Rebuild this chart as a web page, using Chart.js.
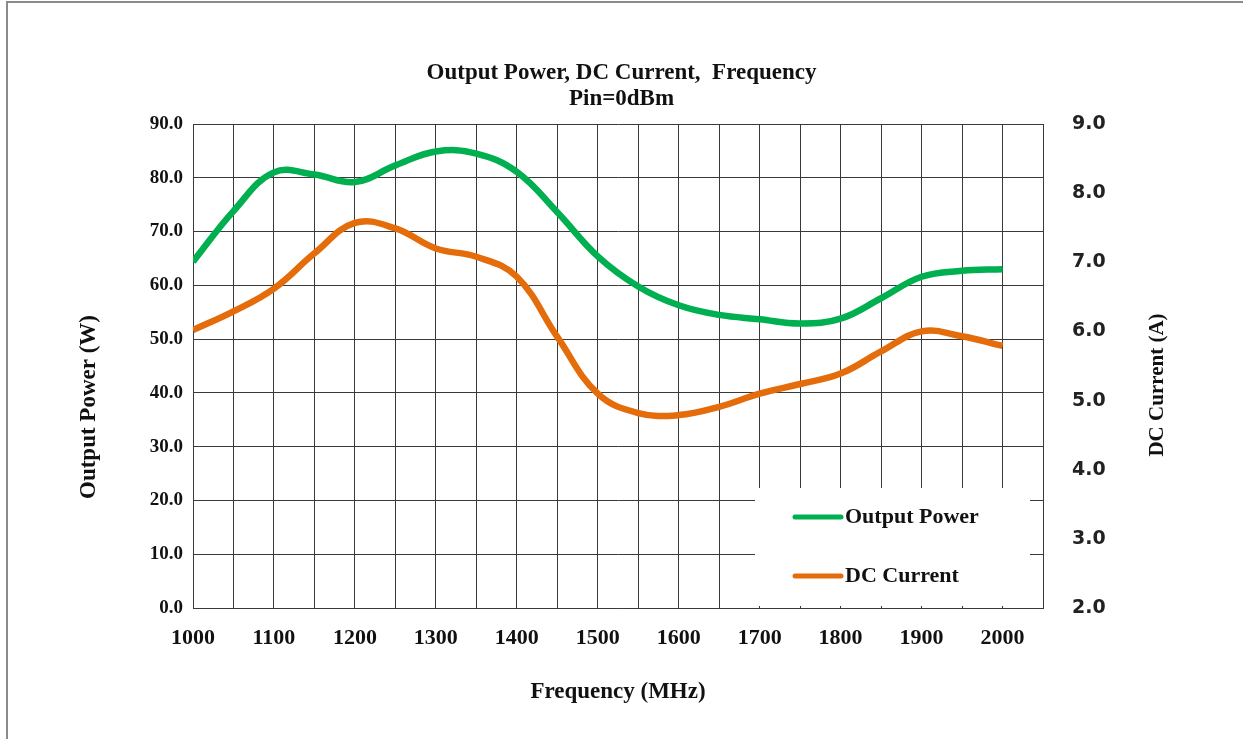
<!DOCTYPE html>
<html>
<head>
<meta charset="utf-8">
<script src="https://cdn.jsdelivr.net/npm/chart.js@4"></script>
<style>
  body { margin: 0; background: #fff; }
  #frame { position: absolute; left: 6px; top: 1px; width: 1300px; height: 800px; border-left: 2px solid #8a8a8a; border-top: 2px solid #8a8a8a; }
  canvas { position: absolute; left: 0; top: 0; }
</style>
</head>
<body>
<div id="frame"></div>
<canvas id="chart" width="1243" height="739"></canvas>
<script>
// frecuencias (MHz)
const freq = [1000, 1050, 1100, 1150, 1200, 1250, 1300, 1350, 1400, 1450, 1500,
              1550, 1600, 1650, 1700, 1750, 1800, 1850, 1900, 1950, 2000];
// potencia de salida (W)
const outputPower = [64.4, 73.8, 81.0, 80.6, 79.2, 82.3, 84.9, 84.5, 81.1, 73.6, 65.4,
                     59.8, 56.3, 54.5, 53.7, 52.9, 53.8, 57.6, 61.6, 62.7, 63.0];
// corriente DC (A)
const dcCurrent = [6.02, 6.29, 6.62, 7.13, 7.57, 7.49, 7.20, 7.08, 6.79, 5.92, 5.10,
                   4.82, 4.79, 4.91, 5.10, 5.24, 5.39, 5.71, 6.00, 5.93, 5.79];

const serif = "'Liberation Serif', 'Times New Roman', serif";
const sans = "'DejaVu Sans', Verdana, sans-serif";
const verde = '#00b050';
const naranja = '#e46c0a';
const tituloIzq = 'Output Power (W)';
const tituloDer = 'DC Current (A)';

// títulos de los ejes verticales
const titulosPlugin = {
  id: 'titulosY',
  afterDraw(chart) {
    const ctx = chart.ctx;
    ctx.save();
    ctx.fillStyle = '#111';
    ctx.textAlign = 'center';
    ctx.textBaseline = 'middle';
    ctx.font = 'bold 23px ' + serif;
    ctx.translate(89, 407);
    ctx.rotate(-Math.PI / 2);
    ctx.fillText(tituloIzq, 0, 0);
    ctx.restore();
    ctx.save();
    ctx.fillStyle = '#111';
    ctx.textAlign = 'center';
    ctx.textBaseline = 'middle';
    ctx.font = 'bold 21px ' + serif;
    ctx.translate(1158, 385);
    ctx.rotate(-Math.PI / 2);
    ctx.fillText(tituloDer, 0, 0);
    ctx.restore();
  }
};

// leyenda dentro del área del gráfico
const leyendaPlugin = {
  id: 'leyenda',
  afterDatasetsDraw(chart) {
    const ctx = chart.ctx;
    ctx.save();
    ctx.fillStyle = '#fff';
    ctx.fillRect(755, 488, 275, 118);
    const items = chart.data.datasets;
    const ys = [517, 576];
    items.forEach((ds, i) => {
      ctx.strokeStyle = ds.borderColor;
      ctx.lineWidth = 5;
      ctx.lineCap = 'round';
      ctx.beginPath();
      ctx.moveTo(795, ys[i]);
      ctx.lineTo(841, ys[i]);
      ctx.stroke();
      ctx.fillStyle = '#111';
      ctx.font = 'bold 22px ' + serif;
      ctx.textBaseline = 'middle';
      ctx.textAlign = 'left';
      ctx.fillText(ds.label, 845, ys[i]);
    });
    ctx.restore();
  }
};

new Chart(document.getElementById('chart'), {
  type: 'line',
  data: {
    datasets: [{
      label: 'Output Power',
      data: freq.map((f, i) => ({ x: f, y: outputPower[i] })),
      borderColor: verde,
      borderWidth: 6.5,
      pointRadius: 0,
      tension: 0.4,
      yAxisID: 'y'
    }, {
      label: 'DC Current',
      data: freq.map((f, i) => ({ x: f, y: dcCurrent[i] })),
      borderColor: naranja,
      borderWidth: 6.5,
      pointRadius: 0,
      tension: 0.4,
      yAxisID: 'y1'
    }]
  },
  options: {
    responsive: false,
    animation: false,
    layout: { padding: 0 },
    plugins: {
      legend: { display: false },
      tooltip: { enabled: false },
      title: {
        display: true,
        text: ['Output Power, DC Current,  Frequency', 'Pin=0dBm'],
        color: '#111',
        font: { family: serif, size: 23, weight: 'bold', lineHeight: 26 / 23 },
        padding: { top: 60, bottom: 12 }
      }
    },
    scales: {
      x: {
        type: 'linear',
        min: 1000,
        max: 2050,
        afterFit: s => { s.height = 131; },
        ticks: {
          stepSize: 50,
          padding: 17,
          autoSkip: false,
          maxRotation: 0,
          color: '#111',
          font: { family: serif, size: 22, weight: 'bold' },
          callback: v => (v % 100 === 0 && v <= 2000) ? String(v) : ''
        },
        grid: { color: '#3a3a3a', lineWidth: 1, drawTicks: false },
        border: { color: '#3a3a3a' },
        title: {
          display: true,
          text: 'Frequency (MHz)',
          color: '#111',
          font: { family: serif, size: 23, weight: 'bold' },
          padding: { bottom: 33 }
        }
      },
      y: {
        position: 'left',
        min: 0,
        max: 90,
        afterFit: s => { s.width = 193; },
        ticks: {
          stepSize: 10,
          padding: 10,
          color: '#111',
          font: { family: serif, size: 19, weight: 'bold' },
          callback: v => v.toFixed(1)
        },
        grid: { color: '#3a3a3a', lineWidth: 1, drawTicks: false },
        border: { color: '#3a3a3a' }
      },
      y1: {
        position: 'right',
        min: 2,
        max: 9,
        afterFit: s => { s.width = 200; },
        ticks: {
          stepSize: 1,
          padding: 29,
          color: '#222',
          font: { family: sans, size: 19, weight: 'bold' },
          callback: v => v.toFixed(1)
        },
        grid: { drawOnChartArea: false, drawTicks: false },
        border: { color: '#3a3a3a' }
      }
    }
  },
  plugins: [leyendaPlugin, titulosPlugin]
});
</script>
</body>
</html>
